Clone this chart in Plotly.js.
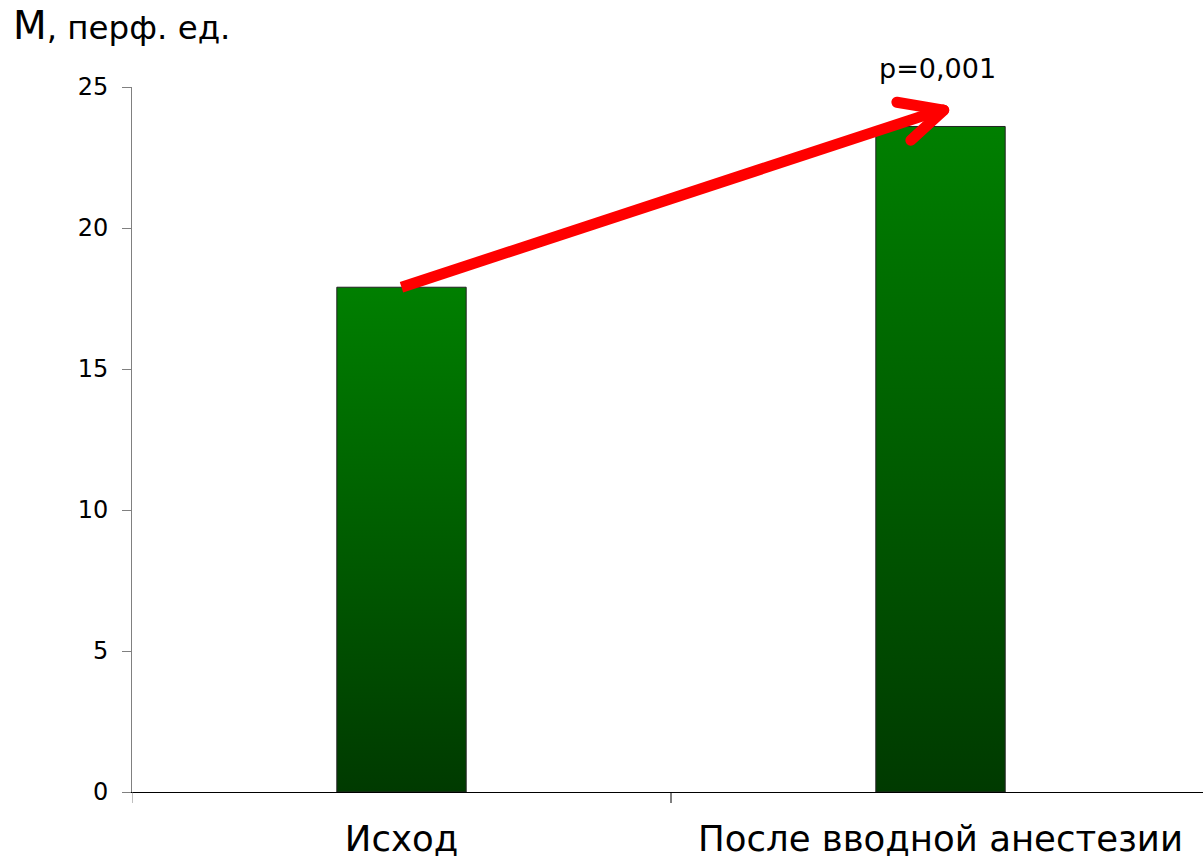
<!DOCTYPE html>
<html>
<head>
<meta charset="utf-8">
<script src="https://cdn.plot.ly/plotly-3.0.1.min.js"></script>
<style>html,body{margin:0;padding:0;background:#fff;}#chart{width:1203px;height:859px;}</style>
</head>
<body>
<div id="chart"></div>
<script>
// ---- data ----
const categories = ["Исход", "После вводной анестезии"];
const values = [17.9, 23.6];
const yTickVals = [0, 5, 10, 15, 20, 25];
const yTitle = "M";
const yTitleRest = ", перф. ед.";
const pLabel = "p=0,001";

const FONT = "DejaVu Sans, sans-serif";

const trace = {
  type: "bar",
  x: [0, 1],
  y: values,
  width: 0.24,
  marker: { color: "#006000", line: { color: "#222222", width: 1 } },
  hoverinfo: "none"
};

const red = "#ff0000";
const tipX = 1.0, tipY = values[1] + 0.58;
const layout = {
  width: 1203, height: 859,
  margin: { l: 132, r: 0, t: 87, b: 67 },
  paper_bgcolor: "#fff", plot_bgcolor: "#fff",
  showlegend: false,
  font: { family: FONT, color: "#000" },
  title: {
    text: yTitle + "<span style='font-size:32.5px'>" + yTitleRest + "</span>",
    font: { family: FONT, size: 39, color: "#000" },
    xref: "container", yref: "container",
    x: 13 / 1203, xanchor: "left",
    y: 1 - 12 / 859, yanchor: "top"
  },
  xaxis: {
    type: "linear",
    range: [-0.5, 1.487],
    tickmode: "array",
    tickvals: [0, 1],
    ticktext: categories,
    ticks: "",
    showgrid: false, zeroline: false,
    showline: true, linecolor: "#000", linewidth: 1,
    tickfont: { family: FONT, size: 35.5, color: "#000" },
    ticklabelstandoff: 15
  },
  yaxis: {
    range: [0, 25],
    tickmode: "array",
    tickvals: yTickVals,
    ticks: "outside", ticklen: 9, tickcolor: "#808080", tickwidth: 1,
    showgrid: false, zeroline: false,
    showline: true, linecolor: "#808080", linewidth: 1,
    tickfont: { family: FONT, size: 24, color: "#000" },
    ticklabelstandoff: 9
  },
  shapes: [
    // category boundary ticks
    { type: "line", xref: "x", yref: "paper", x0: -0.5, x1: -0.5, y0: 0, y1: -11/705, line: { color: "#808080", width: 1 } },
    { type: "line", xref: "x", yref: "paper", x0: 0.5, x1: 0.5, y0: 0, y1: -11/705, line: { color: "#000", width: 1 } },
    // arrow
    { type: "line", xref: "x", yref: "y", x0: 0, y0: values[0], x1: tipX, y1: tipY, line: { color: red, width: 11 } },
    { type: "line", xref: "x", yref: "y", x0: 0.919, y0: tipY + 0.28, x1: tipX + 0.006, y1: tipY, line: { color: red, width: 11 } },
    { type: "line", xref: "x", yref: "y", x0: 0.945, y0: tipY - 1.07, x1: tipX + 0.006, y1: tipY, line: { color: red, width: 11 } }
  ],
  annotations: [
    { text: pLabel, xref: "x", yref: "paper", x: 0.995, y: (792 - 69) / 705, showarrow: false,
      font: { family: FONT, size: 27, color: "#000" }, xanchor: "center", yanchor: "middle" }
  ]
};

Plotly.newPlot("chart", [trace], layout, { staticPlot: true, displayModeBar: false }).then(function (gd) {
  const svg = gd.querySelector(".main-svg");
  let defs = svg.querySelector("defs");
  const ns = "http://www.w3.org/2000/svg";
  if (!defs) { defs = document.createElementNS(ns, "defs"); svg.insertBefore(defs, svg.firstChild); }
  const lg = document.createElementNS(ns, "linearGradient");
  lg.setAttribute("id", "barGrad");
  lg.setAttribute("x1", "0"); lg.setAttribute("y1", "0");
  lg.setAttribute("x2", "0"); lg.setAttribute("y2", "1");
  [["0", "#007f00"], ["1", "#003a00"]].forEach(function (s) {
    const st = document.createElementNS(ns, "stop");
    st.setAttribute("offset", s[0]); st.setAttribute("stop-color", s[1]);
    lg.appendChild(st);
  });
  defs.appendChild(lg);
  gd.querySelectorAll(".bars .point path").forEach(function (p) { p.style.fill = "url(#barGrad)"; });
  const shp = gd.querySelectorAll(".shapelayer path");
  shp.forEach(function (p, i) { if (i >= 3) { p.style.strokeLinecap = "round"; } });
});
</script>
</body>
</html>
